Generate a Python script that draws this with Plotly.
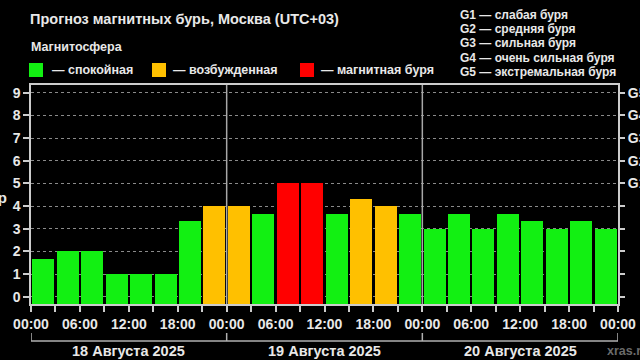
import pandas as pd
import plotly.graph_objects as go

# ---- data ----
kp_values = [1.67, 2, 2, 1, 1, 1, 3.33, 4,
             4, 3.67, 5, 5, 3.67, 4.33, 4, 3.67,
             3, 3.67, 3, 3.67, 3.33, 3, 3.33, 3]
kp_status = ["calm"] * 7 + ["excited"] + \
            ["excited", "calm", "storm", "storm", "calm", "excited", "excited", "calm"] + \
            ["calm"] * 8
day_labels = ["18 Августа 2025", "19 Августа 2025", "20 Августа 2025"]
legend_labels = ["— спокойная", "— возбужденная", "— магнитная буря"]
g_levels = ["G1", "G2", "G3", "G4", "G5"]
g_legend = ["G1 — слабая буря", "G2 — средняя буря", "G3 — сильная буря",
            "G4 — очень сильная буря", "G5 — экстремальная буря"]
title_text = "Прогноз магнитных бурь, Москва (UTC+03)"
subtitle_text = "Магнитосфера"

status_colors = {"calm": "#12f012", "excited": "#ffc000", "storm": "#ff0000"}
legend_colors = ["#12f012", "#ffc000", "#ff0000"]

# ---- layout geometry ----
W, H = 640, 360
L, R, T, B = 31, 22, 85, 56
PW, PH = W - L - R, H - T - B
YMIN, YMAX = -0.32, 9.34


def px(x):
    return (x - L) / PW


def py(y):
    return (H - B - y) / PH


start = pd.Timestamp("2025-08-18 00:00")
slot_starts = pd.date_range(start, periods=len(kp_values), freq="3h")
x_centers = slot_starts + pd.Timedelta(hours=1.5)
end = start + pd.Timedelta(days=3)
tickvals = pd.date_range(start, end, freq="3h")
ticktext = [t.strftime("%H:%M") if t.hour % 6 == 0 else "" for t in tickvals]

FONT = "Liberation Sans, Arial, sans-serif"
TXT = "#e8e8e8"
GRID = "#8a8a8a"

fig = go.Figure()
fig.add_trace(go.Bar(
    x=x_centers,
    y=[v - YMIN for v in kp_values],
    base=YMIN,
    width=3 * 3600 * 1000 * 0.9,
    marker=dict(color=[status_colors[s] for s in kp_status], line=dict(width=0)),
    showlegend=False,
    hoverinfo="skip",
))
# invisible trace for right axis
fig.add_trace(go.Scatter(x=[x_centers[0]], y=[0], yaxis="y2", mode="markers",
                         marker=dict(opacity=0), showlegend=False, hoverinfo="skip"))

fig.update_layout(
    width=W, height=H, autosize=False,
    margin=dict(l=L, r=R, t=T, b=B, pad=0, autoexpand=False),
    paper_bgcolor="black", plot_bgcolor="black",
    font=dict(family=FONT, color=TXT, size=13),
    bargap=0,
    xaxis=dict(
        type="date", range=[start, end],
        tickvals=tickvals, ticktext=ticktext,
        ticks="outside", ticklen=6, tickcolor="#cccccc", tickwidth=1.5,
        tickfont=dict(size=14, color=TXT, weight="bold"),
        showgrid=False, zeroline=False,
        showline=True, linecolor="#cccccc", linewidth=1.5, mirror=True,
    ),
    yaxis=dict(
        range=[YMIN, YMAX], tickvals=list(range(10)),
        ticks="outside", ticklen=6, tickcolor="#cccccc", tickwidth=1.5,
        tickfont=dict(size=14, color=TXT, weight="bold"),
        showgrid=True, gridcolor=GRID, griddash="dot", gridwidth=1,
        zeroline=False,
        showline=True, linecolor="#cccccc", linewidth=1.5, mirror=True,
    ),
    yaxis2=dict(
        range=[YMIN, YMAX], overlaying="y", side="right",
        tickvals=list(range(10)),
        ticktext=[""] * 5 + g_levels,
        ticks="outside", ticklen=6, tickcolor="#cccccc", tickwidth=1.5,
        tickfont=dict(size=14, color=TXT, weight="bold"),
        showgrid=False, zeroline=False, showline=False,
    ),
)

shapes = []
# day separators inside plot
for d in range(1, 3):
    xd = start + pd.Timedelta(days=d)
    shapes.append(dict(type="line", xref="x", yref="paper", x0=xd, x1=xd, y0=0, y1=1,
                       line=dict(color="#a8a8a8", width=1.5), layer="above"))
# bottom day brackets
for d in range(4):
    xd = start + pd.Timedelta(days=d)
    shapes.append(dict(type="line", xref="x", yref="paper", x0=xd, x1=xd,
                       y0=py(333), y1=py(341), line=dict(color="#b0b0b0", width=1.5)))
shapes.append(dict(type="line", xref="x", yref="paper", x0=start, x1=end,
                   y0=py(341), y1=py(341), line=dict(color="#b0b0b0", width=1.5)))
# legend squares
sq_x = [29, 152, 300]
for xs, c in zip(sq_x, legend_colors):
    shapes.append(dict(type="rect", xref="paper", yref="paper",
                       x0=px(xs), x1=px(xs + 14), y0=py(77), y1=py(63),
                       fillcolor=c, line=dict(width=0)))
fig.update_layout(shapes=shapes)

ann = []
ann.append(dict(text=title_text, xref="paper", yref="paper", x=px(28), y=py(19),
                xanchor="left", yanchor="middle", showarrow=False,
                font=dict(size=14.5, color=TXT, weight="bold")))
ann.append(dict(text=subtitle_text, xref="paper", yref="paper", x=px(29), y=py(47),
                xanchor="left", yanchor="middle", showarrow=False,
                font=dict(size=12.5, color=TXT, weight="bold")))
lab_x = [50, 171, 319]
for xs, t in zip(lab_x, legend_labels):
    ann.append(dict(text=t, xref="paper", yref="paper", x=px(xs), y=py(70),
                    xanchor="left", yanchor="middle", showarrow=False,
                    font=dict(size=12.5, color=TXT, weight="bold")))
g_y = [15, 29, 43, 58, 72]
for yy, t in zip(g_y, g_legend):
    ann.append(dict(text=t, xref="paper", yref="paper", x=px(458), y=py(yy),
                    xanchor="left", yanchor="middle", showarrow=False,
                    font=dict(size=12, color=TXT, weight="bold")))
for d, t in enumerate(day_labels):
    xm = start + pd.Timedelta(days=d, hours=12)
    ann.append(dict(text=t, xref="x", yref="paper", x=xm, y=py(351),
                    xanchor="center", yanchor="middle", showarrow=False,
                    font=dict(size=14.5, color=TXT, weight="bold")))
ann.append(dict(text="Kp", xref="paper", yref="paper", x=px(9), y=py(197),
                xanchor="right", yanchor="middle", showarrow=False,
                font=dict(size=15, color=TXT, weight="bold")))
ann.append(dict(text="xras.ru", xref="paper", yref="paper", x=px(605), y=py(351),
                xanchor="left", yanchor="middle", showarrow=False,
                font=dict(size=12.5, color="#6a6a6a", weight="bold")))
fig.update_layout(annotations=ann)

fig.write_html(
    "out.html",
    config={"responsive": False, "displayModeBar": False},
    post_script="document.body.style.margin='0';document.body.style.overflow='hidden';",
)
